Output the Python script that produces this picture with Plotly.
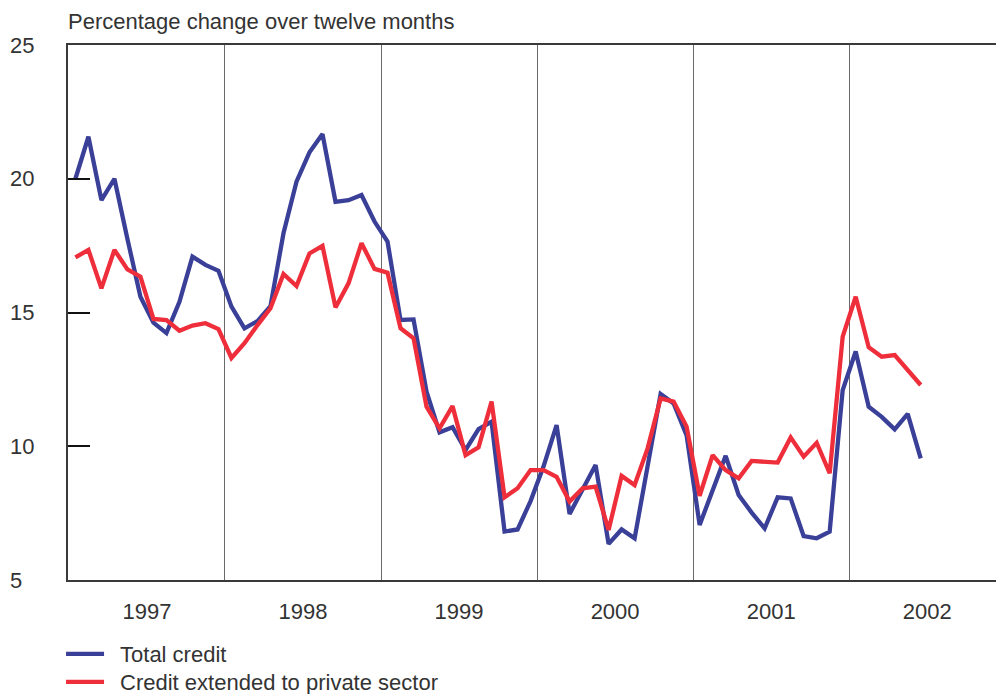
import plotly.graph_objects as go

# Monthly observations, January 1997 to June 2002 (month index 0 = Jan 1997)
years = ["1997", "1998", "1999", "2000", "2001", "2002"]
months = list(range(66))

total_credit = [
    20.0, 21.57, 19.2, 20.0, 17.75, 15.59, 14.62, 14.23, 15.4, 17.09, 16.78, 16.56,
    15.22, 14.41, 14.68, 15.24, 17.96, 19.89, 20.99, 21.67, 19.14, 19.2, 19.39, 18.4,
    17.65, 14.72, 14.74, 12.04, 10.52, 10.71, 9.86, 10.64, 10.92, 6.81, 6.89, 7.95,
    9.25, 10.79, 7.47, 8.39, 9.3, 6.35, 6.89, 6.56, 9.26, 11.95, 11.6, 10.4,
    7.06, 8.36, 9.64, 8.18, 7.52, 6.93, 8.09, 8.05, 6.64, 6.56, 6.81, 12.1,
    13.54, 11.48, 11.1, 10.63, 11.21, 9.55,
]

private_credit = [
    17.06, 17.34, 15.9, 17.34, 16.61, 16.34, 14.76, 14.72, 14.32, 14.51, 14.6, 14.38,
    13.3, 13.85, 14.53, 15.16, 16.44, 15.99, 17.21, 17.49, 15.19, 16.09, 17.59, 16.63,
    16.49, 14.41, 14.04, 11.48, 10.67, 11.5, 9.67, 9.96, 11.67, 8.09, 8.43, 9.11,
    9.11, 8.86, 7.93, 8.43, 8.49, 6.87, 8.89, 8.55, 9.92, 11.79, 11.67, 10.73,
    8.15, 9.67, 9.11, 8.8, 9.45, 9.42, 9.39, 10.33, 9.61, 10.13, 8.99, 14.1,
    15.59, 13.7, 13.35, 13.41, 12.85, 12.29,
]

y_ticks = [5, 10, 15, 20, 25]
# labels sit flush left, so the single digit is padded with a figure space
y_ticktext = ["5\u2007", "10", "15", "20", "25"]

BLUE = "#3a3f98"
RED = "#ee2e3a"
TEXT = "#333333"
FONT = "Liberation Sans, Arial, sans-serif"
FS = 22
GAP = "\u2002"  # en space: extra room between legend swatch and label

year_centres = [12 * k + 5.5 for k in range(len(years))]
year_bounds = [12 * k + 11.5 for k in range(len(years) - 1)]

fig = go.Figure()
fig.add_trace(go.Scatter(
    x=months, y=total_credit, mode="lines", name=GAP + "Total credit",
    line=dict(color=BLUE, width=4.3), legend="legend",
))
fig.add_trace(go.Scatter(
    x=months, y=private_credit, mode="lines", name=GAP + "Credit extended to private sector",
    line=dict(color=RED, width=4.3), legend="legend2",
))

legend_common = dict(
    orientation="v", xref="paper", x=-0.0075, xanchor="left",
    yref="container", yanchor="middle",
    font=dict(family=FONT, size=FS, color=TEXT), itemwidth=38,
    bgcolor="rgba(0,0,0,0)", borderwidth=0,
)

fig.update_layout(
    width=996, height=694,
    margin=dict(l=68, r=0, t=45, b=114),
    paper_bgcolor="white", plot_bgcolor="white",
    font=dict(family=FONT, size=FS, color=TEXT),
    showlegend=True,
    legend=dict(legend_common, y=1 - 654 / 694),
    legend2=dict(legend_common, y=1 - 682 / 694),
    annotations=[dict(
        text="Percentage change over twelve months", xref="paper", yref="paper",
        x=0, y=1.043, xanchor="left", yanchor="middle", showarrow=False, xshift=-2,
        font=dict(family=FONT, size=FS, color=TEXT),
    )],
)

fig.update_xaxes(
    range=[-0.57, 70.79], showline=True, mirror=True, linecolor="#3a3a3a", linewidth=2.2,
    tickvals=year_centres, ticktext=years, ticks="", showgrid=False, zeroline=False,
    ticklabelstandoff=10, tickfont=dict(family=FONT, size=FS, color=TEXT),
    minor=dict(tickvals=year_bounds, showgrid=True, gridcolor="#6a6a6a", gridwidth=1.2, ticks=""),
)
fig.update_yaxes(
    range=[5, 25], tickvals=y_ticks, ticktext=y_ticktext,
    showline=True, linecolor="#3a3a3a", linewidth=2.2,
    ticks="inside", ticklen=22, tickwidth=2, tickcolor="#111111", showgrid=False,
    zeroline=False, ticklabelstandoff=27, tickfont=dict(family=FONT, size=FS, color=TEXT),
)

fig.write_html("out.html")
